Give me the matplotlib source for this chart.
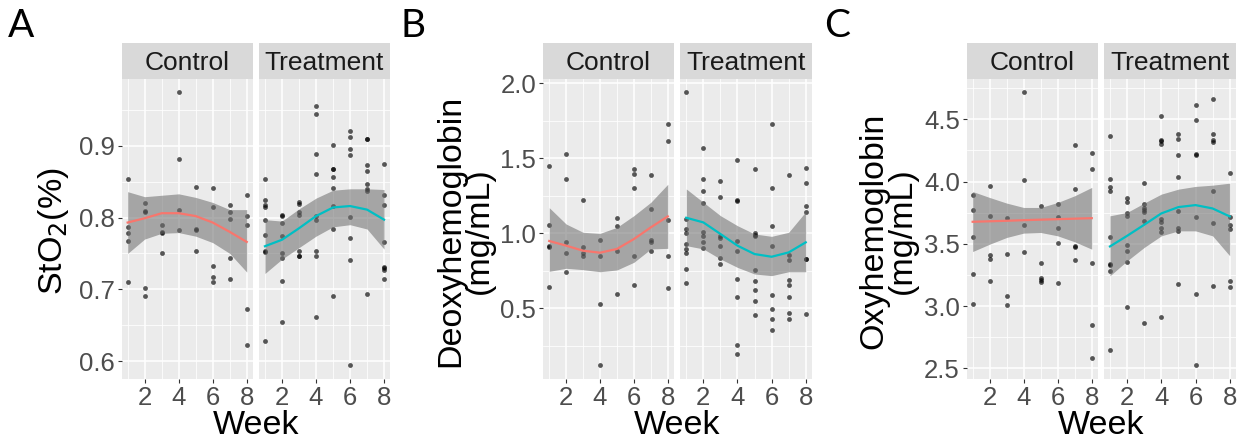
import matplotlib.pyplot as plt

plt.rcParams['font.family'] = ['Liberation Sans', 'DejaVu Sans']

weeks = [1, 2, 3, 4, 5, 6, 7, 8]
groups = ['Control', 'Treatment']

# --- StO2 (%) points, one list per week
sto2_ctrl = [[0.854, 0.787, 0.779, 0.767, 0.710],
             [0.820, 0.809, 0.808, 0.702, 0.691],
             [0.790, 0.780, 0.778, 0.751],
             [0.975, 0.882, 0.811, 0.782],
             [0.842, 0.784, 0.783, 0.753],
             [0.841, 0.814, 0.732, 0.717, 0.710],
             [0.818, 0.808, 0.798, 0.744, 0.714],
             [0.832, 0.802, 0.790, 0.673, 0.622]]
sto2_trt = [[0.854, 0.825, 0.817, 0.814, 0.797, 0.775, 0.753, 0.752, 0.628],
            [0.803, 0.802, 0.792, 0.774, 0.751, 0.743, 0.711, 0.655],
            [0.822, 0.819, 0.807, 0.803, 0.753, 0.747, 0.747],
            [0.955, 0.944, 0.888, 0.861, 0.802, 0.796, 0.753, 0.747, 0.661],
            [0.901, 0.868, 0.867, 0.857, 0.841, 0.816, 0.784, 0.690],
            [0.921, 0.912, 0.896, 0.887, 0.801, 0.772, 0.741, 0.594],
            [0.910, 0.909, 0.873, 0.865, 0.847, 0.840, 0.837, 0.694],
            [0.874, 0.831, 0.818, 0.766, 0.731, 0.729, 0.727, 0.715]]
sto2_ctrl_fit = [0.793, 0.799, 0.806, 0.806, 0.802, 0.793, 0.780, 0.766]
sto2_ctrl_lo = [0.750, 0.770, 0.778, 0.779, 0.774, 0.765, 0.750, 0.724]
sto2_ctrl_hi = [0.836, 0.829, 0.831, 0.833, 0.828, 0.821, 0.811, 0.811]
sto2_trt_fit = [0.760, 0.769, 0.785, 0.802, 0.814, 0.816, 0.811, 0.797]
sto2_trt_lo = [0.722, 0.742, 0.758, 0.774, 0.787, 0.790, 0.784, 0.756]
sto2_trt_hi = [0.797, 0.795, 0.812, 0.827, 0.838, 0.840, 0.840, 0.839]

# --- Deoxyhemoglobin (mg/mL)
deoxy_ctrl = [[1.447, 1.058, 0.918, 0.911, 0.640],
              [1.527, 1.360, 0.942, 0.871, 0.740],
              [1.224, 0.909, 0.871, 0.847],
              [0.958, 0.847, 0.529, 0.122],
              [1.102, 1.049, 0.884, 0.596],
              [1.431, 1.398, 1.300, 0.851, 0.658],
              [1.391, 1.160, 0.953, 0.940, 0.880],
              [1.731, 1.616, 1.087, 0.851, 0.633]]
deoxy_trt = [[1.944, 1.096, 1.031, 1.002, 0.931, 0.896, 0.869, 0.762, 0.671],
             [1.571, 1.360, 1.282, 1.204, 1.009, 0.980, 0.942, 0.904],
             [1.349, 1.240, 0.980, 0.969, 0.918, 0.838, 0.798],
             [1.489, 1.220, 1.218, 0.949, 0.884, 0.696, 0.573, 0.258, 0.196],
             [1.427, 1.000, 0.989, 0.980, 0.758, 0.682, 0.624, 0.551, 0.458],
             [1.727, 1.300, 1.049, 0.913, 0.591, 0.493, 0.431, 0.358],
             [1.391, 0.858, 0.822, 0.689, 0.658, 0.573, 0.469, 0.427],
             [1.438, 1.338, 1.182, 1.142, 0.829, 0.827, 0.462]]
deoxy_ctrl_fit = [0.949, 0.918, 0.884, 0.871, 0.896, 0.962, 1.040, 1.113]
deoxy_ctrl_lo = [0.747, 0.767, 0.758, 0.744, 0.756, 0.807, 0.896, 0.900]
deoxy_ctrl_hi = [1.171, 1.062, 1.007, 1.000, 1.040, 1.118, 1.207, 1.327]
deoxy_trt_fit = [1.104, 1.073, 0.996, 0.918, 0.862, 0.844, 0.873, 0.940]
deoxy_trt_lo = [0.918, 0.896, 0.829, 0.773, 0.729, 0.718, 0.744, 0.744]
deoxy_trt_hi = [1.296, 1.207, 1.118, 1.051, 0.996, 0.980, 1.007, 1.144]

# --- Oxyhemoglobin (mg/mL)
oxy_ctrl = [[3.896, 3.768, 3.551, 3.259, 3.015],
            [3.966, 3.725, 3.414, 3.377, 3.203],
            [3.706, 3.420, 3.082, 3.007],
            [4.719, 4.009, 3.653, 3.438],
            [3.800, 3.345, 3.224, 3.213, 3.197],
            [3.819, 3.714, 3.626, 3.505, 3.184],
            [4.295, 3.937, 3.479, 3.473, 3.369],
            [4.228, 4.103, 3.345, 2.847, 2.579]]
oxy_trt = [[4.365, 4.017, 3.958, 3.923, 3.551, 3.337, 3.332, 3.278, 2.648],
           [3.870, 3.835, 3.744, 3.720, 3.492, 3.444, 3.353, 2.994],
           [3.990, 3.819, 3.789, 3.770, 3.752, 3.685, 2.863],
           [4.526, 4.333, 4.322, 4.298, 3.701, 3.679, 3.626, 3.591, 2.914],
           [4.386, 4.338, 4.212, 4.036, 3.760, 3.626, 3.604, 3.176],
           [4.613, 4.496, 4.218, 4.210, 3.714, 3.096, 2.525],
           [4.667, 4.386, 4.335, 4.317, 3.928, 3.666, 3.162],
           [4.068, 3.717, 3.653, 3.615, 3.205, 3.157]]
oxy_ctrl_fit = [3.677, 3.681, 3.685, 3.690, 3.694, 3.698, 3.702, 3.706]
oxy_ctrl_lo = [3.438, 3.497, 3.551, 3.586, 3.591, 3.564, 3.516, 3.457]
oxy_ctrl_hi = [3.920, 3.872, 3.827, 3.792, 3.792, 3.832, 3.886, 3.953]
oxy_trt_fit = [3.479, 3.564, 3.653, 3.744, 3.795, 3.811, 3.784, 3.720]
oxy_trt_lo = [3.243, 3.363, 3.471, 3.564, 3.604, 3.604, 3.564, 3.404]
oxy_trt_hi = [3.725, 3.752, 3.827, 3.899, 3.939, 3.961, 3.971, 3.987]

W, H = 1246, 442
fig = plt.figure(figsize=(W / 100, H / 100), dpi=100)

line_cols = ['#F8766D', '#00BFC4']


def facet(x0, x1, pts, fit, lo, hi, col, ylim, major, minor, show_y):
    ax = fig.add_axes([x0 / W, (H - 379) / H, (x1 - x0) / W, 300 / H])
    ax.set_facecolor('#EBEBEB')
    for s in ax.spines.values():
        s.set_visible(False)
    ax.set_xlim(0.65, 8.35)
    ax.set_ylim(*ylim)
    ax.set_xticks([2, 4, 6, 8])
    ax.set_xticks([1, 3, 5, 7], minor=True)
    ax.set_yticks(major)
    ax.set_yticks(minor, minor=True)
    ax.grid(which='major', color='white', lw=1.1)
    ax.grid(which='minor', color='white', lw=0.55)
    ax.set_axisbelow(True)
    ax.tick_params(which='major', length=3, width=0.8, color='#333333',
                   labelsize=18.5, labelcolor='#4D4D4D', pad=2)
    ax.tick_params(which='minor', length=0)
    if not show_y:
        ax.tick_params(axis='y', which='major', length=0, labelleft=False)
    else:
        ax.set_yticklabels(['%.1f' % v for v in major])
    for w, vals in zip(weeks, pts):
        ax.scatter([w] * len(vals), vals, s=12, color='black', alpha=0.65,
                   lw=0, zorder=2)
    ax.fill_between(weeks, lo, hi, color='#6E6E6E', alpha=0.56, lw=0, zorder=3)
    ax.plot(weeks, fit, color=col, lw=1.6, zorder=4)
    return ax


def strip(x0, x1, label):
    sa = fig.add_axes([x0 / W, (H - 79) / H, (x1 - x0) / W, 36 / H])
    sa.set_facecolor('#D9D9D9')
    sa.set_xticks([])
    sa.set_yticks([])
    for s in sa.spines.values():
        s.set_visible(False)
    sa.text(0.5, 0.45, label, ha='center', va='center', fontsize=19,
            color='#1A1A1A', transform=sa.transAxes)


panels = [
    dict(xs=[(121.7, 252.7), (259, 390)], pts=[sto2_ctrl, sto2_trt],
         fit=[sto2_ctrl_fit, sto2_trt_fit], lo=[sto2_ctrl_lo, sto2_trt_lo],
         hi=[sto2_ctrl_hi, sto2_trt_hi], ylim=(0.575, 0.993),
         major=[0.6, 0.7, 0.8, 0.9], minor=[0.65, 0.75, 0.85, 0.95],
         letter='A', lx=8, ylab='StO$_2$(%)', ylx=54),
    dict(xs=[(543.3, 673.7), (680.3, 811.7)], pts=[deoxy_ctrl, deoxy_trt],
         fit=[deoxy_ctrl_fit, deoxy_trt_fit], lo=[deoxy_ctrl_lo, deoxy_trt_lo],
         hi=[deoxy_ctrl_hi, deoxy_trt_hi], ylim=(0.029, 2.029),
         major=[0.5, 1.0, 1.5, 2.0], minor=[0.25, 0.75, 1.25, 1.75],
         letter='B', lx=401, ylab='Deoxyhemoglobin\n(mg/mL)', ylx=465),
    dict(xs=[(966.7, 1097.7), (1104, 1235.7)], pts=[oxy_ctrl, oxy_trt],
         fit=[oxy_ctrl_fit, oxy_trt_fit], lo=[oxy_ctrl_lo, oxy_trt_lo],
         hi=[oxy_ctrl_hi, oxy_trt_hi], ylim=(2.414, 4.824),
         major=[2.5, 3.0, 3.5, 4.0, 4.5], minor=[2.75, 3.25, 3.75, 4.25, 4.75],
         letter='C', lx=824, ylab='Oxyhemoglobin\n(mg/mL)', ylx=888),
]

for p in panels:
    for i in range(2):
        x0, x1 = p['xs'][i]
        facet(x0, x1, p['pts'][i], p['fit'][i], p['lo'][i], p['hi'][i],
              line_cols[i], p['ylim'], p['major'], p['minor'], i == 0)
        strip(x0, x1, groups[i])
    xc = (p['xs'][0][0] + p['xs'][1][1]) / 2
    fig.text(xc / W, 1 - 426 / H, 'Week', ha='center', va='center',
             fontsize=24.5, color='black')
    fig.text(p['ylx'] / W, 1 - 231 / H, p['ylab'], ha='center', va='center',
             rotation=90, fontsize=24.5, color='black', linespacing=0.92)
    fig.text(p['lx'] / W, 1 - 26 / H, p['letter'], ha='left', va='center',
             fontsize=28, color='black', family=['Lato', 'DejaVu Sans'])

fig.savefig('out.png', dpi=100)
